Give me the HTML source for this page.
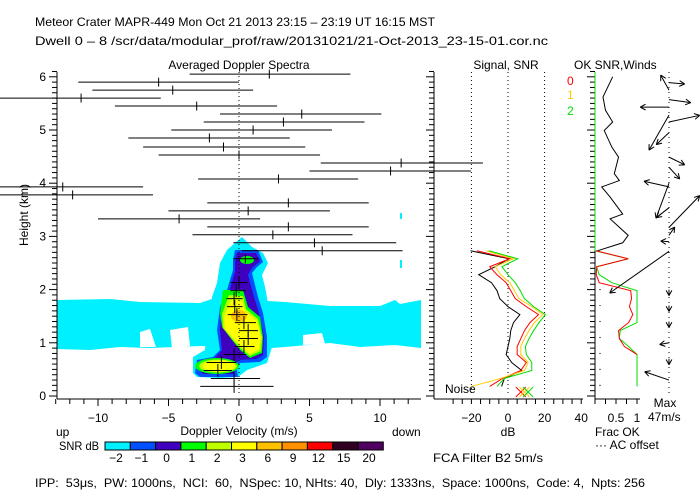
<!DOCTYPE html>
<html><head><meta charset="utf-8"><style>
body{margin:0;background:#fff;}
svg{display:block;font-family:"Liberation Sans",sans-serif;}
text{fill:#000;font-size:12px;}
</style></head><body>
<svg id="chart" width="700" height="500" viewBox="0 0 700 500">
<text x="35" y="26" font-size="13" textLength="400" lengthAdjust="spacingAndGlyphs">Meteor Crater   MAPR-449   Mon Oct 21 2013 23:15 – 23:19 UT 16:15 MST</text>
<text x="35" y="45" font-size="12" textLength="513" lengthAdjust="spacingAndGlyphs">Dwell  0 –  8   /scr/data/modular_prof/raw/20131021/21-Oct-2013_23-15-01.cor.nc</text>
<text x="239" y="69" text-anchor="middle">Averaged Doppler Spectra</text>
<text x="506" y="69" text-anchor="middle">Signal, SNR</text>
<text x="574" y="69">OK SNR,Winds</text>
<text x="567" y="85" style="fill:#f00">0</text>
<text x="567" y="99" style="fill:#fc0">1</text>
<text x="567" y="115" style="fill:#0d0">2</text>

<g>
<polygon fill="#00f0ff" points="57,300 110,299 140,302 200,303 215,298 285,302 330,306 380,306 395,300 400,304 421,300 421,348 395,345 360,347 330,343 285,347 272,348 200,346 150,348 120,347 90,350 57,349"/>
<polygon fill="#fff" points="140,332 150,329 156,347 140,347"/>
<polygon fill="#fff" points="170,330 188,327 190,346 172,348"/>
<polygon fill="#fff" points="303,335 322,333 325,344 303,345"/>
<polygon fill="#00f0ff" points="242,237 252,247 263,253 268,263 262,275 265,287 268,303 272,347 267,363 247,370 238,377 220,378 197,377 193,373 193,357 205,350 207,330 210,310 212,297 217,283 220,263 227,250 235,243"/>
<polygon fill="#0050ff" points="235,250 258,250 263,262 257,267 252,273 258,297 263,313 267,337 267,357 260,362 240,363 237,370 238,377 200,377 195,373 197,360 213,357 220,350 217,330 220,307 227,290 233,270 233,260"/>
<polygon fill="#4000c0" points="237,253 256,253 260,261 252,268 248,275 254,297 259,313 264,337 263,355 256,359 238,360 235,368 234,374 203,374 199,370 201,361 215,358 222,350 220,330 222,307 229,292 235,272 235,262"/>
<polygon fill="#00ff00" points="223,290 243,290 248,307 260,317 263,337 262,353 250,358 240,350 232,340 222,327 220,313"/>
<polygon fill="#c0ff00" points="229,295 243,296 246,309 258,319 262,337 261,351 250,356 241,349 233,340 223,328 222,314"/>
<polygon fill="#ffff00" points="232,299 242,301 245,311 257,321 261,337 259,349 250,354 242,347 234,339 225,329 224,317 229,305"/>
<ellipse cx="239" cy="316" rx="8" ry="6" fill="#ffc000"/>
<ellipse cx="217" cy="366" rx="22" ry="8" fill="#00ff00"/>
<ellipse cx="218" cy="366" rx="19" ry="6.5" fill="#c0ff00"/>
<ellipse cx="219" cy="366" rx="16" ry="5.5" fill="#ffff00"/>
<ellipse cx="247" cy="260" rx="11" ry="6" fill="#4000c0"/>
<ellipse cx="247" cy="260" rx="7" ry="4" fill="#00ff00"/>
<rect x="400" y="260" width="2" height="8" fill="#00f0ff"/>
<rect x="400" y="213" width="2" height="6" fill="#00f0ff"/>
</g>
<line x1="239" y1="72" x2="239" y2="396" stroke="#000" stroke-dasharray="1,3"/>
<line x1="669" y1="72" x2="669" y2="396" stroke="#000" stroke-dasharray="1,4"/>
<g id="grid"></g>
<g id="marks"></g>

<text x="28" y="215" text-anchor="middle" transform="rotate(-90 28 215)" font-size="11">Height (km)</text>
<text x="239" y="435" text-anchor="middle">Doppler Velocity (m/s)</text>
<text x="56" y="436">up</text>
<text x="392" y="436">down</text>
<text x="508" y="436" text-anchor="middle">dB</text>
<text x="445" y="393" font-size="11">Noise</text>
<text x="595" y="436">Frac OK</text>
<text x="595" y="449">··· AC offset</text>
<text x="665" y="407" text-anchor="middle">Max</text>
<text x="648" y="421">47m/s</text>
<text x="59" y="450" textLength="40" lengthAdjust="spacingAndGlyphs">SNR dB</text>
<g id="cbar"></g>
<text x="433" y="462" textLength="110" lengthAdjust="spacingAndGlyphs">FCA Filter B2   5m/s</text>
<text x="35" y="487" textLength="610" lengthAdjust="spacingAndGlyphs" xml:space="preserve">IPP:  53μs,  PW: 1000ns,  NCI:  60,  NSpec: 10, NHts: 40,  Dly: 1333ns,  Space: 1000ns,  Code: 4,  Npts: 256</text>
</svg>
<script>
// Spectra data
const specH=[6.05,5.9,5.75,5.6,5.45,5.3,5.15,5.0,4.85,4.68,4.53,4.38,4.23,4.08,3.93,3.78,3.63,3.48,3.33,3.18,3.03,2.88,2.73,2.58,2.13,1.98,1.83,1.68,1.53,1.38,1.23,1.08,0.93,0.78,0.63,0.48,0.33,0.18];
const specV=[2.15,-5.7,-4.7,-11.2,-3.0,4.45,3.15,1.0,-2.1,-1.1,0,11.5,10.75,2.8,-12.5,-11.8,3.5,0.65,-4.25,3.5,2.4,5.35,5.9,0.45,0,-0.2,-0.35,-0.3,-0.15,0.35,0.65,0.65,0.35,-0.35,-1.25,-1.5,-0.35,-0.35];
const specLo=[-3.5,-11.4,-10.4,-18,-8.8,-1.35,-2.5,-4.8,-7.85,-6.8,-5.7,5.8,5.0,-2.9,-18.3,-17.6,-2.25,-5.0,-10.0,-2.25,-3.3,-0.4,0.2,-0.4,-0.6,-0.6,-0.9,-0.85,-0.8,-0.3,0,0,-0.3,-1.1,-2.3,-2.5,-2.0,-2.75];
const specHi=[7.9,0,1.0,-5.55,2.7,10.1,8.9,6.6,3.6,4.7,5.75,17.3,16.45,8.45,-6.8,-6.1,9.2,6.45,1.5,9.2,8.05,11.15,11.6,1.4,0.6,0.5,0.25,0.25,0.6,1.2,1.35,1.35,1.1,0.5,-0.2,-0.5,1.5,2.45];
// Signal / SNR
const sigH=[2.73,2.58,2.43,2.28,2.13,1.98,1.83,1.68,1.53,1.38,1.23,1.08,0.93,0.78,0.63,0.48,0.33,0.18];
const sigBlack=[-20.5,0.5,-7,-16,-9,-6,-4.5,0,6.5,3,1.5,1,0,-1,2,7.5,-2,-3.5];
const sigRed=[-17,1,-10,-6,-1,1.5,4,10,16.7,12,9,7,5,5,10,7,-3,-10];
const sigOrange=[-12,3,-7,-4,1,3.5,6,13,19,14.5,11.5,9,7,7,11,9,-4,-20];
const sigGreen=[-10.5,5.3,-3.3,0,4,6.7,9,14,20.4,17,14,11.5,9.5,10,13,13,-2,-6];
const noiseDb=[7,9,11];
// Frac OK
const fracH=[6.0,5.62,5.37,5.15,4.99,4.68,4.49,4.18,4.05,3.93,3.74,3.42,3.33,3.02,2.88,2.72];
const fracBlack=[0.42,0.19,0.25,0.42,0.22,0.40,0.56,0.46,0.58,0.16,0.36,0.66,0.36,0.79,0.66,0.02];
const okH=[2.73,2.58,2.43,2.28,2.13,1.98,1.83,1.68,1.53,1.38,1.23,1.08,0.93,0.78,0.63,0.48,0.33,0.18];
const okRed=[0.02,0.79,0.04,0.03,0.10,0.85,0.87,0.82,0.9,0.8,0.56,0.58,0.7,1.0];
const okGreen=[0,0.79,0.04,0.1,0.4,1,1,1,1,1,0.6,0.58,0.8,1,1,1,1,1];
// Winds (u,v in px-scaled m/s)
const windH=[5.75,5.89,5.57,5.43,5.15,5.28,4.95,4.49,4.3,3.93,4.0,3.54,3.17,3.02,2.9,2.72,2.0,1.7,1.4,1.0,0.7,0.3];
const windU=[-8.3,15.7,21.7,-28.7,30.7,-20,-12.7,15.7,10.7,-25,-13,-12.7,30.7,5.7,-8.3,-59.3,0,0,0,-9.3,0,-24.3];
const windV=[15,-1.3,-3,0,6.7,-35,-12,-7.7,-11.7,5.7,-35,-10,31.7,8.3,0.7,-41.7,-6,-6,-6,-1.7,-6,8.3];
// Colorbar
const cbarColors=["#00f0ff","#0050ff","#4000c0","#00ff00","#c0ff00","#ffff00","#ffc000","#ff9000","#ff0000","#300020","#500060"];
const cbarLabels=["−2","−1","0","1","2","3","6","9","12","15","20"];
const velTicks=[-10,-5,0,5,10];
const dbTicks=[-20,0,20,40];
const hTicks=[0,1,2,3,4,5,6];

const NS="http://www.w3.org/2000/svg";
const yH=h=>396-h*53.2, xV=v=>239+v*14.1, xD=d=>508+d*1.83, xF=f=>595+f*42;
function mk(p,tag,at){const e=document.createElementNS(NS,tag);for(const k in at)e.setAttribute(k,at[k]);p.appendChild(e);return e;}
const G=document.getElementById('grid'),M=document.getElementById('marks');
[[57,72,57,399],[57,399,421,399],[434,72,434,399],[434,399,583,399],[595,72,595,399],[595,399,640,399]].forEach(a=>{
 const l=mk(G,'line',{x1:a[0],y1:a[1],x2:a[2],y2:a[3],stroke:'#000'});
 
 
});
for(let i=0;i<=61;i++){const h=i/10,y=yH(h),maj=i%10==0;
 [[57,-1],[434,-1],[595,-1]].forEach(a=>mk(G,'line',{x1:a[0],y1:y,x2:a[0]-(maj?8:5),y2:y,stroke:'#000'}));
}
hTicks.forEach(h=>{const t=mk(G,'text',{x:46,y:yH(h)+4,'text-anchor':'end'});t.textContent=h;
 
 });
for(let v=-13;v<=12;v++){const m=v%5==0;mk(G,'line',{x1:xV(v),y1:399,x2:xV(v),y2:399+(m?7:5),stroke:'#000'});}
velTicks.forEach(v=>{const t=mk(G,'text',{x:xV(v),y:422,'text-anchor':'middle'});t.textContent=v<0?'−'+(-v):v;
 
 });
for(let d=-30;d<=40;d+=5){mk(G,'line',{x1:xD(d),y1:399,x2:xD(d),y2:404,stroke:'#000'});}
dbTicks.forEach(d=>{const t=mk(G,'text',{x:xD(d),y:422,'text-anchor':'middle'});t.textContent=d<0?'−'+(-d):d;
 
 
 if(d<40)mk(G,'line',{x1:xD(d),y1:72,x2:xD(d),y2:396,stroke:'#000','stroke-dasharray':'1,3'});});
[0,0.25,0.5,0.75,1].forEach(f=>mk(G,'line',{x1:xF(f),y1:399,x2:xF(f),y2:404,stroke:'#000'}));
[[0.5,'0.5'],[1,'1']].forEach(a=>{const t=mk(G,'text',{x:xF(a[0]),y:422,'text-anchor':'middle'});t.textContent=a[1];
 
 });
for(let h=0.2;h<=2;h+=0.3)mk(G,'circle',{cx:600,cy:yH(h),r:0.6,fill:'#000'});
specH.forEach((h,i)=>{const y=yH(h);const g=mk(M,'g',{});
 
 
 const lo=Math.max(xV(specLo[i]),0),hi=Math.min(xV(specHi[i]),i==11||i==12?(i==11?483:471):700);
 mk(g,'line',{x1:lo,y1:y,x2:hi,y2:y,stroke:'#000'});
 const th=h<2.2?6.5:4.5;
 mk(g,'line',{x1:xV(specV[i]),y1:y-th,x2:xV(specV[i]),y2:y+th,stroke:'#000'});});
function pl(xs,hs,fx,col,name){const pts=xs.map((v,i)=>fx(v)+','+yH(hs[i])).join(' ');
 const p=mk(M,'polyline',{points:pts,fill:'none',stroke:col,'stroke-width':1});
 
 }
pl(sigBlack,sigH,xD,'#000','signal-line');
pl(sigRed,sigH,xD,'#f00','snr-line-0');
pl(sigOrange,sigH,xD,'#fc0','snr-line-1');
pl(sigGreen,sigH,xD,'#0d0','snr-line-2');
const nc=['#f00','#fc0','#0d0'];
noiseDb.forEach((d,i)=>{const x=xD(d),y=392;const g=mk(M,'g',{stroke:nc[i]});
 
 
 mk(g,'line',{x1:x-5,y1:y-5,x2:x+5,y2:y+5});mk(g,'line',{x1:x-5,y1:y+5,x2:x+5,y2:y-5});});
pl(fracBlack,fracH,xF,'#000','frac-ok-line');
mk(M,'line',{x1:xF(0),y1:72,x2:xF(0),y2:yH(2.73),stroke:'#0d0'});
pl(okGreen,okH,xF,'#0d0','ok-snr-line-2');
pl(okRed,okH.slice(0,okRed.length),xF,'#f00','ok-snr-line-0');
windH.forEach((h,i)=>{const x0=669,y0=yH(h),x1=x0+windU[i],y1=y0-windV[i];
 const g=mk(M,'g',{stroke:'#000'});
 
 
 mk(g,'line',{x1:x0,y1:y0,x2:x1,y2:y1});
 const a=Math.atan2(y1-y0,x1-x0);
 [0.5,-0.5].forEach(da=>mk(g,'line',{x1:x1,y1:y1,x2:x1-6*Math.cos(a+da),y2:y1-6*Math.sin(a+da)}));});
const C=document.getElementById('cbar');
cbarColors.forEach((c,i)=>{const x=105+i*25.3;
 const r=mk(C,'rect',{x:x,y:442,width:25.3,height:8,fill:c,stroke:'#000','stroke-width':1});
 
 
 const t=mk(C,'text',{x:x+11,y:462,'text-anchor':'middle'});t.textContent=cbarLabels[i];
 
 });
</script>
</body></html>
